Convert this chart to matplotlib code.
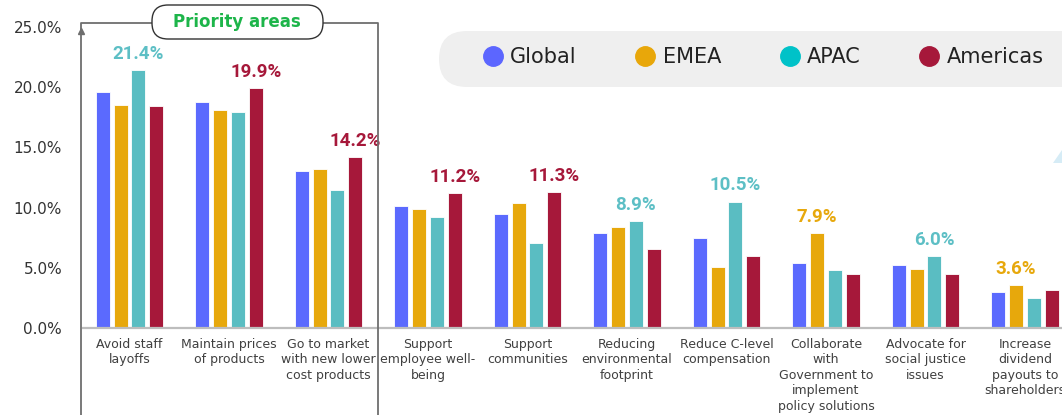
import matplotlib
matplotlib.use('Agg')
import matplotlib.pyplot as plt
import numpy as np
from matplotlib.patches import FancyBboxPatch, Polygon
from matplotlib.lines import Line2D
from matplotlib.transforms import Affine2D

# ---------------- data ----------------
categories = ["Avoid staff\nlayoffs", "Maintain prices\nof products",
              "Go to market\nwith new lower\ncost products",
              "Support\nemployee well-\nbeing", "Support\ncommunities",
              "Reducing\nenvironmental\nfootprint", "Reduce C-level\ncompensation",
              "Collaborate\nwith\nGovernment to\nimplement\npolicy solutions",
              "Advocate for\nsocial justice\nissues",
              "Increase\ndividend\npayouts to\nshareholders"]
series_names = ["Global", "EMEA", "APAC", "Americas"]
global_vals = [19.6, 18.75, 13.0, 10.15, 9.45, 7.87, 7.45, 5.39, 5.2, 2.95]
emea_vals = [18.5, 18.1, 13.2, 9.9, 10.35, 8.36, 5.1, 7.9, 4.93, 3.6]
apac_vals = [21.4, 17.9, 11.5, 9.2, 7.1, 8.9, 10.5, 4.79, 6.0, 2.53]
americas_vals = [18.4, 19.9, 14.2, 11.2, 11.3, 6.57, 6.0, 4.5, 4.5, 3.14]
yticks = [0, 5, 10, 15, 20, 25]
ytick_labels = ["0.0%", "5.0%", "10.0%", "15.0%", "20.0%", "25.0%"]

bar_colors = ["#5B6AFE", "#E7A80C", "#5ABDC2", "#A6183A"]
legend_colors = ["#5C66FF", "#E8A70A", "#00C2C8", "#A6183A"]
label_colors = ["#5B6AFE", "#E7A80C", "#5DBFC5", "#A6183A"]

W, H, DPI = 1062, 415, 100
fig = plt.figure(figsize=(W / DPI, H / DPI), dpi=DPI)
fig.patch.set_facecolor("white")
# pixel transform (x from left, y from top)
px = Affine2D().scale(1, -1).translate(0, H).scale(1 / DPI) + fig.dpi_scale_trans

x_left, x_right = -0.467, 10.0
ax_left_px, ax_top_px, ax_bot_px = 83, 27, 328
ax_right_px = ax_left_px + (x_right - x_left) * 99.5
ax = fig.add_axes([ax_left_px / W, (H - ax_bot_px) / H,
                   (ax_right_px - ax_left_px) / W, (ax_bot_px - ax_top_px) / H])
ax.set_facecolor("none")

all_vals = [global_vals, emea_vals, apac_vals, americas_vals]
x = np.arange(len(categories))
step = 0.179
bw = 0.141
for i, (vals, col) in enumerate(zip(all_vals, bar_colors)):
    ax.bar(x + (i - 1.5) * step, vals, width=bw, color=col,
           edgecolor="white", linewidth=0.6, zorder=2)

# value labels on the highest bar of each group
arr = np.array(all_vals)
for j in range(len(categories)):
    k = int(np.argmax(arr[:, j]))
    ax.annotate(f"{arr[k, j]:.1f}%", (x[j] + (k - 1.5) * step, arr[k, j]),
                xytext=(0, 8), textcoords="offset points", ha="center",
                va="baseline", fontsize=13.5, fontweight="bold",
                family="Roboto", color=label_colors[k], zorder=3)

ax.set_xlim(x_left, x_right)
ax.set_ylim(0, 25)
ax.set_yticks(yticks)
ax.set_yticklabels(ytick_labels, fontsize=11, color="#333333", family="DejaVu Sans")
ax.set_xticks(x)
ax.set_xticklabels(categories, fontsize=9, color="#404040", linespacing=1.25,
                   family="DejaVu Sans")
ax.tick_params(axis="y", length=0, pad=15)
ax.tick_params(axis="x", length=0, pad=7)
for s in ["left", "right", "top"]:
    ax.spines[s].set_visible(False)
ax.spines["bottom"].set_color("#BDBDBD")
ax.spines["bottom"].set_linewidth(1.6)

# Priority areas box
gray = "#6E6E6E"
fig.add_artist(Line2D([81, 81, 378, 378], [430, 23, 23, 430], transform=px,
                      color=gray, lw=1.3, zorder=3))
fig.add_artist(Line2D([81], [31], transform=px, marker="^", markersize=5,
                      color=gray, linestyle="", zorder=3))
fig.add_artist(FancyBboxPatch((152, 5), 171, 34, boxstyle="round,pad=0,rounding_size=16",
                              transform=px, facecolor="white", edgecolor="#333333",
                              lw=1.0, zorder=4))
fig.text(237, 22, "Priority areas", transform=px, ha="center", va="center",
         fontsize=12, fontweight="bold", color="#1DB54A", family="DejaVu Sans", zorder=5)

# partial light-blue shape at right edge
fig.add_artist(Polygon([(1053, 163), (1062, 150), (1062, 163)], closed=True,
                       transform=px, facecolor="#D6ECF6", edgecolor="none", zorder=1))

# Legend pill
fig.add_artist(FancyBboxPatch((439, 31), 700, 56, boxstyle="round,pad=0,rounding_size=28",
                              transform=px, facecolor="#EFEFEF", edgecolor="none", zorder=1))
handles = [Line2D([], [], marker="o", linestyle="", markersize=14,
                  markerfacecolor=c, markeredgecolor=c) for c in legend_colors]
leg = fig.legend(handles, series_names, loc="center left",
                 bbox_to_anchor=(482.6 / W, 1 - 57 / H), ncol=4, frameon=False,
                 fontsize=15, handlelength=1, handletextpad=0.32, columnspacing=2.8,
                 borderpad=0, borderaxespad=0)
for t in leg.get_texts():
    t.set_color("#222222")
leg.set_zorder(6)

fig.savefig("out.png", dpi=DPI)
